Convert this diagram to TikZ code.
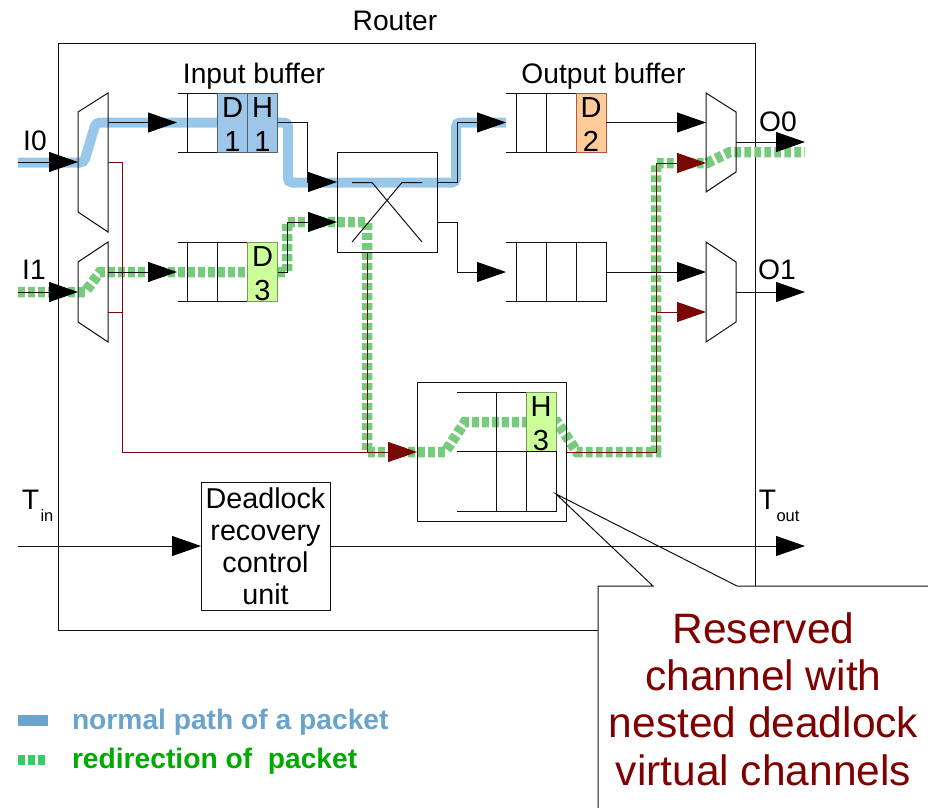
\documentclass[tikz,border=0pt]{standalone}
\usepackage{fontspec}
\setmainfont{Liberation Sans}
\usetikzlibrary{arrows.meta,calc}
\definecolor{pathblue}{HTML}{99C7EA}
\definecolor{pathgreen}{HTML}{77CB7C}
\definecolor{linegray}{HTML}{111111}
\definecolor{redline}{HTML}{7B0606}
\definecolor{callred}{HTML}{800000}
\definecolor{cellblue}{HTML}{9DC6E9}
\definecolor{cellgreen}{HTML}{CCFF99}
\definecolor{cellorange}{HTML}{FFCC99}
\definecolor{legblue}{HTML}{6AA3CC}
\definecolor{legsquare}{HTML}{33CC66}
\definecolor{leggreen}{HTML}{00AA00}
\newcommand{\fs}[2]{\fontsize{#1}{#2}\selectfont}
\tikzset{
  conn/.style={draw=linegray,line width=1pt},
  arr/.style={conn,-{Triangle[length=29pt,width=20pt,color=black,fill=black]}},
  redconn/.style={draw=redline,line width=1pt},
  redarr/.style={redconn,-{Triangle[length=29pt,width=20pt]}},
  boxnode/.style={draw=linegray,line width=1pt,inner sep=0pt,outer sep=0pt},
  anchorbox/.style={inner sep=0pt,outer sep=0pt,minimum width=30pt,minimum height=139pt},
  cellnode/.style={boxnode,minimum width=30pt,minimum height=59pt},
  celltext/.style={inner sep=0pt,outer sep=0pt,align=center,yshift=-2pt,font=\fs{29}{34}},
  bluecell/.style={cellnode,fill=cellblue,draw=cellblue!50!black},
  greencell/.style={cellnode,fill=cellgreen,draw=cellgreen!60!black},
  orangecell/.style={cellnode,fill=cellorange,draw=cellorange!60!red!70!black},
  lbl/.style={inner sep=0pt,outer sep=0pt,font=\fs{28.2}{32}},
  sublbl/.style={inner sep=0pt,outer sep=0pt,font=\fs{16.5}{18}},
  callouttext/.style={inner sep=0pt,outer sep=0pt,align=center,text=callred,font=\fs{42.5}{47.3}},
  legendtext/.style={inner sep=0pt,outer sep=0pt,anchor=west,font=\fs{28.2}{32}\bfseries},
  bluepath/.style={draw=pathblue,line width=10pt,rounded corners=4pt},
  greenpath/.style={draw=pathgreen,line width=10.5pt,dash pattern=on 6.8pt off 3.2pt},
  muxshape/.style={draw=linegray,line width=1pt},
}
\begin{document}
\begin{tikzpicture}[x=1pt,y=-1pt]
\useasboundingbox (0,0) rectangle (928,807);

% Router frame
\node[boxnode,minimum width=697pt,minimum height=587pt] (router) at (406.5,336.5) {};
\node[lbl] (routerlabel) at (395,21) {Router};

% Callout body hides the frame corner
\fill[white] (598,586) rectangle (930,810);

% Packet paths, under everything else
\draw[bluepath] (18,162.5) -- (84,162.5) -- (96,122.5) -- (288,122.5) -- (288,182.5) -- (456,182.5) -- (456,122.5) -- (506,122.5);
\draw[greenpath] (18,292) -- (85,292) -- (100,272) -- (287,272) -- (287,222) -- (367,222) -- (367,452) -- (445,452) -- (465,422) -- (557,422) -- (577,452) -- (656,452) -- (656,163) -- (707,163) -- (730,152) -- (805,152);

% Multiplexers
\node[anchorbox] (muxA) at (93,162.5) {};
\node[anchorbox] (muxB) at (93,292) {};
\node[anchorbox] (muxC) at (721,142.5) {};
\node[anchorbox] (muxD) at (721,292) {};
\draw[muxshape] (108,93) -- (78,112) -- (78,212) -- (108,232) -- cycle;
\draw[muxshape] (108,242) -- (78,262) -- (78,322) -- (108,342) -- cycle;
\draw[muxshape] (706,93) -- (736,112) -- (736,172) -- (706,192) -- cycle;
\draw[muxshape] (706,242) -- (736,262) -- (736,322) -- (706,342) -- cycle;

% Input buffers
\node[cellnode] (ia1) at (202.5,122.5) {};
\node[bluecell,label={[celltext]center:{D\\1}}] (ia2) at (232.5,122.5) {};
\node[bluecell,label={[celltext]center:{H\\1}}] (ia3) at (262.5,122.5) {};
\node[cellnode] (ib1) at (202.5,272) {};
\node[cellnode] (ib2) at (232.5,272) {};
\node[greencell,label={[celltext]center:{D\\3}}] (ib3) at (262.5,272) {};
\draw[conn] (ia1.north west) -- ++(-10,0) (ia1.south west) -- ++(-10,0);
\draw[conn] (ib1.north west) -- ++(-10,0) (ib1.south west) -- ++(-10,0);
\node[lbl] (inlabel) at (254,76) {Input buffer};

% Output buffers
\node[cellnode] (oa1) at (531,122.5) {};
\node[cellnode] (oa2) at (561,122.5) {};
\node[orangecell,label={[celltext]center:{D\\2}}] (oa3) at (591,122.5) {};
\node[cellnode] (ob1) at (531,272) {};
\node[cellnode] (ob2) at (561,272) {};
\node[cellnode] (ob3) at (591,272) {};
\draw[conn] (oa1.north west) -- ++(-10,0) (oa1.south west) -- ++(-10,0);
\draw[conn] (ob1.north west) -- ++(-10,0) (ob1.south west) -- ++(-10,0);
\node[lbl] (outlabel) at (603.5,76) {Output buffer};

% Crossbar
\node[boxnode,minimum width=100pt,minimum height=100pt] (xbar) at (387,202) {};
\draw[conn] (352,182.5) -- (372,182.5) -- (422,242);
\draw[conn] (422,182.5) -- (402,182.5) -- (352,242);

% Reserved channel buffer
\node[boxnode,minimum width=149pt,minimum height=139pt] (resv) at (491.5,451.5) {};
\node[cellnode,minimum width=29.5pt] (ra1) at (511.5,421.5) {};
\node[greencell,label={[celltext]center:{H\\3}}] (ra2) at (541,421.5) {};
\node[cellnode,minimum width=29.5pt,minimum height=60pt] (rb1) at (511.5,481) {};
\node[cellnode,minimum height=60pt] (rb2) at (541,481) {};
\draw[conn] (ra1.north west) -- ++(-40,0) (ra1.south west) -- ++(-40,0) (rb1.south west) -- ++(-40,0);

% Named connector ends
\coordinate (i0) at (18,162);
\coordinate (i1) at (18,292);
\coordinate (tin) at (18,546);
\coordinate (o0) at (805,142);
\coordinate (o1) at (805,292);
\coordinate (tout) at (805,546);
\coordinate (ia) at (177,122.5);
\coordinate (ib) at (177,272);
\coordinate (oa) at (506,122.5);
\coordinate (ob) at (506,272);

% Black connectors
\draw[arr] (i0) -- (muxA.west |- i0);
\draw[arr] (i1) -- (muxB.west |- i1);
\draw[arr] (muxA.east |- ia) -- (ia);
\draw[arr] (muxB.east |- ib) -- (ib);
\draw[arr] (ia3.east) -- (307,122.5) -- (307,182) -- (xbar.west |- 0,182);
\draw[arr] (ib3.east) -- (287,272) -- (287,222) -- (xbar.west |- 0,222);
\draw[arr] (xbar.east |- 0,182) -- (457,182) -- (457,122.5) -- (oa);
\draw[arr] (xbar.east |- 0,222) -- (457,222) -- (457,272) -- (ob);
\draw[arr] (oa3.east) -- (muxC.west |- oa3.east);
\draw[arr] (ob3.east) -- (muxD.west |- ob3.east);
\draw[arr] (muxC.east |- o0) -- (o0);
\draw[arr] (muxD.east |- o1) -- (o1);

% Red reserved-channel connectors
\draw[redarr] (muxA.east |- i0) -- (122,162) -- (122,452) -- (resv.west |- 0,452);
\draw[redconn] (muxB.east |- 0,312) -- (122,312);
\draw[redconn] (367,0 |- xbar.south) -- (367,452);
\draw[redconn] (resv.east |- 0,452) -- (656,452) -- (656,163);
\draw[redarr] (656,163) -- (muxC.west |- 0,163);
\draw[redarr] (656,312) -- (muxD.west |- 0,312);

% Deadlock recovery unit and test lines
\node[boxnode,minimum width=129pt,minimum height=128pt,align=center,font=\fs{28.7}{32}] (drcu) at (265.5,546) {Deadlock\\recovery\\control\\unit};
\draw[arr] (tin) -- (drcu.west);
\draw[arr] (drcu.east) -- (tout);

% Port labels
\node[lbl] (li0) at (35,141) {I0};
\node[lbl] (li1) at (34,270) {I1};
\node[lbl] (lo0) at (778,122) {O0};
\node[lbl] (lo1) at (777,270) {O1};
\node[lbl] (ltin) at (30.5,500) {T};
\node[sublbl] (ltinsub) at (47,516) {in};
\node[lbl] (ltout) at (767.5,500) {T};
\node[sublbl] (ltoutsub) at (788,516) {out};

% Callout
\coordinate (calltip) at (rb2.east |- 0,494);
\draw[conn] (598,810) -- (598,586) -- (653,586) -- (calltip) -- (737,586) -- (930,586);
\node[callouttext] (calltext) at (763.5,699) {Reserved\\channel with\\nested deadlock\\virtual channels};

% Legend
\fill[legblue] (18,715) rectangle (48,726);
\foreach \xx in {18,28,38} \fill[legsquare] (\xx,755) rectangle ++(6.5,10);
\node[legendtext,text=legblue] (legA) at (72,722) {normal path of a packet};
\node[legendtext,text=leggreen] (legB) at (72,761.5) {redirection of\ \ packet};
\end{tikzpicture}
\end{document}
